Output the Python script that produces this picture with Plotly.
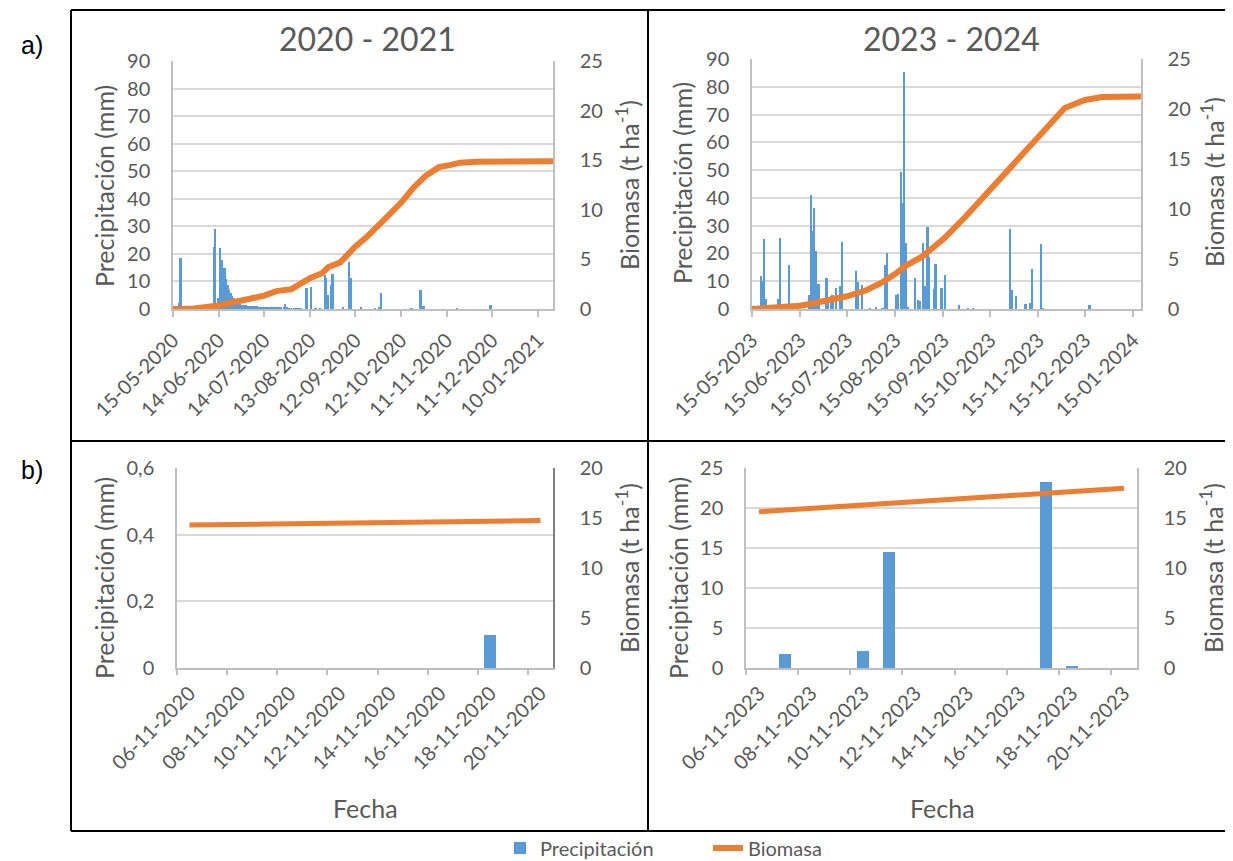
import plotly.graph_objects as go

# page body has an 8 px margin: the figure is sized so that it fills the window exactly
OFF = 8
W, H = 1233 - OFF, 861 - OFF

# ------------------------------------------------------------------ data
rain20_dates = ["2020-05-19", "2020-05-20", "2020-06-11", "2020-06-12", "2020-06-13", "2020-06-14",
                "2020-06-15", "2020-06-16", "2020-06-17", "2020-06-18", "2020-06-19", "2020-06-20",
                "2020-06-21", "2020-06-22", "2020-06-23", "2020-06-24", "2020-06-25", "2020-06-26",
                "2020-06-27", "2020-06-28", "2020-06-29", "2020-06-30", "2020-07-01", "2020-07-02",
                "2020-07-03", "2020-07-04", "2020-07-05", "2020-07-06", "2020-07-07", "2020-07-08",
                "2020-07-09", "2020-07-10", "2020-07-11", "2020-07-12", "2020-07-13", "2020-07-14",
                "2020-07-15", "2020-07-16", "2020-07-17", "2020-07-18", "2020-07-19", "2020-07-20",
                "2020-07-21", "2020-07-22", "2020-07-23", "2020-07-24", "2020-07-25", "2020-07-27",
                "2020-07-28", "2020-07-29", "2020-07-30", "2020-07-31", "2020-08-01", "2020-08-03",
                "2020-08-05", "2020-08-07", "2020-08-11", "2020-08-14", "2020-08-17", "2020-08-20",
                "2020-08-23", "2020-08-24", "2020-08-25", "2020-08-27", "2020-08-28", "2020-09-04",
                "2020-09-08", "2020-09-09", "2020-09-16", "2020-09-25", "2020-09-28", "2020-09-29",
                "2020-10-19", "2020-10-25", "2020-10-27", "2020-11-18", "2020-12-10"]
rain20_mm = [2.0, 18.4, 22.6, 29.0, 1.0, 4.0,
             22.2, 17.8, 15.0, 14.8, 11.0, 8.7,
             7.0, 5.7, 4.8, 4.1, 3.5, 2.9,
             2.3, 1.8, 1.5, 1.4, 1.3, 1.3,
             1.2, 1.2, 1.1, 1.1, 1.0, 1.0,
             1.0, 0.9, 0.9, 0.8, 0.8, 0.7,
             0.7, 0.6, 0.6, 0.5, 0.5, 0.5,
             0.4, 0.4, 0.4, 0.4, 0.4, 0.8,
             1.7, 0.6, 0.3, 0.3, 0.2, 0.2,
             0.2, 0.2, 7.5, 8.1, 0.2, 0.2,
             12.3, 11.1, 5.1, 8.7, 12.7, 0.8,
             16.9, 11.1, 0.5, 0.3, 0.5, 5.9,
             0.3, 6.9, 1.1, 0.1, 1.5]

bio20_dates = ["2020-05-15", "2020-05-29", "2020-06-14", "2020-06-27", "2020-07-14", "2020-07-22",
               "2020-08-01", "2020-08-13", "2020-08-21", "2020-08-25", "2020-09-02", "2020-09-12",
               "2020-09-19", "2020-09-29", "2020-10-06", "2020-10-12", "2020-10-20", "2020-10-28",
               "2020-11-04", "2020-11-06", "2020-11-13", "2020-11-20", "2020-12-01", "2020-12-15",
               "2021-01-20"]
bio20_t = [0.0, 0.05, 0.35, 0.8, 1.35, 1.8,
           2.0, 3.1, 3.6, 4.2, 4.7, 6.3,
           7.2, 8.7, 9.7, 10.7, 12.2, 13.4,
           14.1, 14.3, 14.5, 14.75, 14.85, 14.9,
           14.9]

rain23_dates = ["2023-05-21", "2023-05-22", "2023-05-23", "2023-05-24", "2023-06-01", "2023-06-02",
                "2023-06-08", "2023-06-21", "2023-06-22", "2023-06-23", "2023-06-24", "2023-06-25",
                "2023-06-27", "2023-07-02", "2023-07-03", "2023-07-05", "2023-07-06", "2023-07-08",
                "2023-07-11", "2023-07-12", "2023-07-21", "2023-07-22", "2023-07-25", "2023-07-30",
                "2023-08-03", "2023-08-07", "2023-08-09", "2023-08-10", "2023-08-16", "2023-08-17",
                "2023-08-19", "2023-08-20", "2023-08-21", "2023-08-22", "2023-08-23", "2023-08-28",
                "2023-08-30", "2023-08-31", "2023-09-02", "2023-09-03", "2023-09-05", "2023-09-06",
                "2023-09-09", "2023-09-10", "2023-09-14", "2023-09-16", "2023-09-25", "2023-10-01",
                "2023-10-04", "2023-10-28", "2023-10-29", "2023-11-01", "2023-11-07", "2023-11-10",
                "2023-11-11", "2023-11-17", "2023-11-18", "2023-12-18"]
rain23_mm = [12.0, 10.0, 25.3, 3.6, 3.6, 25.5,
             16.0, 5.0, 41.0, 28.0, 36.4, 21.0,
             9.0, 11.2, 3.0, 4.8, 5.0, 7.7,
             8.3, 24.2, 13.8, 9.6, 8.5, 0.3,
             0.4, 0.3, 15.8, 20.0, 5.0, 5.4,
             49.4, 38.0, 85.5, 23.6, 0.5, 11.2,
             3.2, 3.0, 23.6, 8.2, 29.6, 18.8,
             7.3, 16.1, 7.7, 12.2, 1.4, 0.3,
             0.3, 28.9, 6.8, 4.6, 1.7, 2.1,
             14.5, 23.3, 0.3, 1.4]

bio23_dates = ["2023-05-15", "2023-05-31", "2023-06-15", "2023-06-21", "2023-07-01", "2023-07-15",
               "2023-07-27", "2023-08-06", "2023-08-15", "2023-08-22", "2023-09-01", "2023-09-15",
               "2023-09-29", "2023-10-15", "2023-10-30", "2023-11-06", "2023-11-15", "2023-11-20",
               "2023-12-02", "2023-12-15", "2023-12-26", "2024-01-20"]
bio23_t = [0.0, 0.1, 0.33, 0.5, 0.85, 1.27,
           1.85, 2.6, 3.5, 4.35, 5.2, 7.0,
           9.2, 11.9, 14.4, 15.6, 17.1, 18.0,
           20.1, 20.9, 21.2, 21.25]

nov20_dates = ["2020-11-06", "2020-11-07", "2020-11-08", "2020-11-09", "2020-11-10", "2020-11-11",
               "2020-11-12", "2020-11-13", "2020-11-14", "2020-11-15", "2020-11-16", "2020-11-17",
               "2020-11-18", "2020-11-19", "2020-11-20"]
nov20_rain = [0, 0, 0, 0, 0, 0, 0, 0, 0, 0, 0, 0, 0.1, 0, 0]
nov20_bio = [14.30, 14.33, 14.36, 14.39, 14.42, 14.45, 14.48, 14.51,
             14.54, 14.57, 14.60, 14.63, 14.66, 14.70, 14.74]

nov23_dates = ["2023-11-06", "2023-11-07", "2023-11-08", "2023-11-09", "2023-11-10", "2023-11-11",
               "2023-11-12", "2023-11-13", "2023-11-14", "2023-11-15", "2023-11-16", "2023-11-17",
               "2023-11-18", "2023-11-19", "2023-11-20"]
nov23_rain = [0, 1.7, 0, 0, 2.1, 14.5, 0, 0, 0, 0, 0, 23.3, 0.3, 0, 0]
nov23_bio = [15.62, 15.78, 15.94, 16.10, 16.26, 16.42, 16.58, 16.75,
             16.92, 17.08, 17.25, 17.42, 17.60, 17.79, 17.98]

ticks20 = ["2020-05-15", "2020-06-14", "2020-07-14", "2020-08-13", "2020-09-12",
           "2020-10-12", "2020-11-11", "2020-12-11", "2021-01-10"]
ticks23 = ["2023-05-15", "2023-06-15", "2023-07-15", "2023-08-15", "2023-09-15",
           "2023-10-15", "2023-11-15", "2023-12-15", "2024-01-15"]
labels_nov20 = ["2020-11-06", "2020-11-08", "2020-11-10", "2020-11-12",
                "2020-11-14", "2020-11-16", "2020-11-18", "2020-11-20"]
labels_nov23 = ["2023-11-06", "2023-11-08", "2023-11-10", "2023-11-12",
                "2023-11-14", "2023-11-16", "2023-11-18", "2023-11-20"]
marks_nov20 = ["2020-11-05 12:00", "2020-11-07 12:00", "2020-11-09 12:00", "2020-11-11 12:00",
               "2020-11-13 12:00", "2020-11-15 12:00", "2020-11-17 12:00", "2020-11-19 12:00"]
marks_nov23 = ["2023-11-05 12:00", "2023-11-07 12:00", "2023-11-09 12:00", "2023-11-11 12:00",
               "2023-11-13 12:00", "2023-11-15 12:00", "2023-11-17 12:00", "2023-11-19 12:00"]

# ------------------------------------------------------------------ style
BLUE = "#5B9BD5"
ORANGE = "#ED7D31"
TXT = "#595959"
GRID = "#D9D9D9"
AXL = "#BFBFBF"
FONT = "Lato, 'Open Sans', sans-serif"
DAY = 86400000


def px(x):
    return (x - OFF) / W


def py(y):
    return 1 - (y - OFF) / H


fig = go.Figure()

# panel a) 2020-2021
fig.add_trace(go.Bar(x=rain20_dates, y=rain20_mm, xaxis="x", yaxis="y", width=1.2 * DAY,
                     marker=dict(color=BLUE, line=dict(width=0)), name="Precipitación",
                     legendgroup="p", showlegend=True))
fig.add_trace(go.Scatter(x=bio20_dates, y=bio20_t, xaxis="x", yaxis="y2", mode="lines",
                         line=dict(color=ORANGE, width=6), name="Biomasa",
                         legendgroup="b", showlegend=True))
# panel a) 2023-2024
fig.add_trace(go.Bar(x=rain23_dates, y=rain23_mm, xaxis="x2", yaxis="y3", width=1.2 * DAY,
                     marker=dict(color=BLUE, line=dict(width=0)), name="Precipitación",
                     legendgroup="p", showlegend=False))
fig.add_trace(go.Scatter(x=bio23_dates, y=bio23_t, xaxis="x2", yaxis="y4", mode="lines",
                         line=dict(color=ORANGE, width=6), name="Biomasa",
                         legendgroup="b", showlegend=False))
# panel b) 2020
fig.add_trace(go.Bar(x=nov20_dates, y=nov20_rain, xaxis="x3", yaxis="y5", width=0.47 * DAY,
                     marker=dict(color=BLUE, line=dict(width=0)), name="Precipitación",
                     legendgroup="p", showlegend=False))
fig.add_trace(go.Scatter(x=nov20_dates, y=nov20_bio, xaxis="x3", yaxis="y6", mode="lines",
                         line=dict(color=ORANGE, width=5), name="Biomasa",
                         legendgroup="b", showlegend=False))
# panel b) 2023
fig.add_trace(go.Bar(x=nov23_dates, y=nov23_rain, xaxis="x4", yaxis="y7", width=0.47 * DAY,
                     marker=dict(color=BLUE, line=dict(width=0)), name="Precipitación",
                     legendgroup="p", showlegend=False))
fig.add_trace(go.Scatter(x=nov23_dates, y=nov23_bio, xaxis="x4", yaxis="y8", mode="lines",
                         line=dict(color=ORANGE, width=5), name="Biomasa",
                         legendgroup="b", showlegend=False))
# empty traces that carry the tick-mark helper axes
fig.add_trace(go.Scatter(x=[], y=[], xaxis="x5", yaxis="y5", showlegend=False, hoverinfo="skip"))
fig.add_trace(go.Scatter(x=[], y=[], xaxis="x6", yaxis="y7", showlegend=False, hoverinfo="skip"))

tickfont = dict(family=FONT, size=20, color=TXT)


def xdate(domain, anchor, rng, tickvals, ticks="outside"):
    return dict(domain=domain, anchor=anchor, type="date", range=rng, tickmode="array",
                tickvals=tickvals, tickformat="%d-%m-%Y", tickangle=-45, ticks=ticks,
                ticklen=6, tickwidth=1.5, tickcolor=AXL, showline=True, linecolor=AXL,
                linewidth=1.5, showgrid=False, zeroline=False, tickfont=tickfont,
                ticklabelstandoff=4, fixedrange=True, automargin=False)


def yleft(domain, anchor, rng, dtick):
    return dict(domain=domain, anchor=anchor, range=rng, dtick=dtick, tick0=0, showgrid=True,
                gridcolor=GRID, gridwidth=1.5, showline=True, linecolor=AXL, linewidth=1.5,
                zeroline=False, ticks="", tickfont=tickfont, ticklabelstandoff=17,
                automargin=False)


def yright(overlay, anchor, rng, dtick, lc=AXL):
    return dict(overlaying=overlay, anchor=anchor, side="right", range=rng, dtick=dtick,
                tick0=0, showgrid=False, showline=True, linecolor=lc, linewidth=1.5,
                zeroline=False, ticks="", tickfont=tickfont, ticklabelstandoff=21,
                automargin=False)


def xmarks(overlay, anchor, rng, tickvals):
    return dict(overlaying=overlay, anchor=anchor, type="date", range=rng, tickmode="array",
                tickvals=tickvals, ticks="outside", ticklen=6, tickwidth=1.5, tickcolor=AXL,
                showticklabels=False, showgrid=False, zeroline=False, showline=False,
                automargin=False)


dA_x = [px(173), px(553)]
dA_y = [py(309), py(61)]
dB_x = [px(752), px(1141)]
dB_y = [py(309), py(59)]
dC_x = [px(177), px(553)]
dC_y = [py(668), py(468)]
dD_x = [px(746), px(1137)]
dD_y = [py(668), py(468)]

rng_nov20 = ["2020-11-05 12:00", "2020-11-20 12:00"]
rng_nov23 = ["2023-11-05 12:00", "2023-11-20 12:00"]

fig.update_layout(
    width=W, height=H, autosize=False,
    margin=dict(l=0, r=0, t=0, b=0, pad=0, autoexpand=False),
    paper_bgcolor="white", plot_bgcolor="white",
    separators=",.",
    bargap=0,
    font=dict(family=FONT, color=TXT),
    xaxis=xdate(dA_x, "y", ["2020-05-15", "2021-01-20"], ticks20),
    yaxis=yleft(dA_y, "x", [0, 90], 10),
    yaxis2=yright("y", "x", [0, 25], 5),
    xaxis2=xdate(dB_x, "y3", ["2023-05-15", "2024-01-20"], ticks23),
    yaxis3=yleft(dB_y, "x2", [0, 90], 10),
    yaxis4=yright("y3", "x2", [0, 25], 5),
    xaxis3=xdate(dC_x, "y5", rng_nov20, labels_nov20, ticks=""),
    yaxis5=yleft(dC_y, "x3", [0, 0.6], 0.2),
    yaxis6=yright("y5", "x3", [0, 20], 5, lc="#7F7F7F"),
    xaxis4=xdate(dD_x, "y7", rng_nov23, labels_nov23, ticks=""),
    yaxis7=yleft(dD_y, "x4", [0, 25], 5),
    yaxis8=yright("y7", "x4", [0, 20], 5),
    xaxis5=xmarks("x3", "y5", rng_nov20, marks_nov20),
    xaxis6=xmarks("x4", "y7", rng_nov23, marks_nov23),
    legend=dict(orientation="h", x=px(500), xanchor="left", y=py(848), yanchor="middle",
                font=dict(family=FONT, size=20, color=TXT), bgcolor="rgba(0,0,0,0)",
                traceorder="normal", tracegroupgap=0, entrywidth=163,
                entrywidthmode="pixels"),
    showlegend=True,
)

annos = []
titlefont = dict(family=FONT, size=32, color=TXT)
axfont = dict(family=FONT, size=25, color=TXT)
annos.append(dict(text="2020 - 2021", x=px(367), y=py(38), font=titlefont))
annos.append(dict(text="2023 - 2024", x=px(951), y=py(38), font=titlefont))
for (xl, yl), (xr, yr) in [((104, 186), (627, 185)), ((682, 183), (1213, 182)),
                            ((104, 578), (627, 568)), ((678, 578), (1211, 568))]:
    annos.append(dict(text="Precipitación (mm)", x=px(xl), y=py(yl), textangle=-90, font=axfont))
    annos.append(dict(text="Biomasa (t ha<sup>-1</sup>)", x=px(xr), y=py(yr), textangle=-90,
                      font=axfont))
annos.append(dict(text="Fecha", x=px(365), y=py(808), font=axfont))
annos.append(dict(text="Fecha", x=px(942), y=py(808), font=axfont))
lblfont = dict(family="Liberation Sans, Arial, sans-serif", size=25, color="black")
annos.append(dict(text="a)", x=px(32), y=py(45), font=lblfont))
annos.append(dict(text="b)", x=px(32), y=py(470), font=lblfont))
for a in annos:
    a.update(xref="paper", yref="paper", showarrow=False, xanchor="center", yanchor="middle")
fig.update_layout(annotations=annos)

frame = dict(color="black", width=2)
fig.update_layout(shapes=[
    dict(type="line", xref="paper", yref="paper", x0=px(71), x1=1, y0=py(10), y1=py(10),
         line=frame),
    dict(type="line", xref="paper", yref="paper", x0=px(71), x1=1, y0=py(831), y1=py(831),
         line=frame),
    dict(type="line", xref="paper", yref="paper", x0=px(71), x1=1, y0=py(441), y1=py(441),
         line=frame),
    dict(type="line", xref="paper", yref="paper", x0=px(71), x1=px(71), y0=py(831), y1=py(10),
         line=frame),
    dict(type="line", xref="paper", yref="paper", x0=px(648), x1=px(648), y0=py(831), y1=py(10),
         line=frame),
])

fig.write_html("out.html")
